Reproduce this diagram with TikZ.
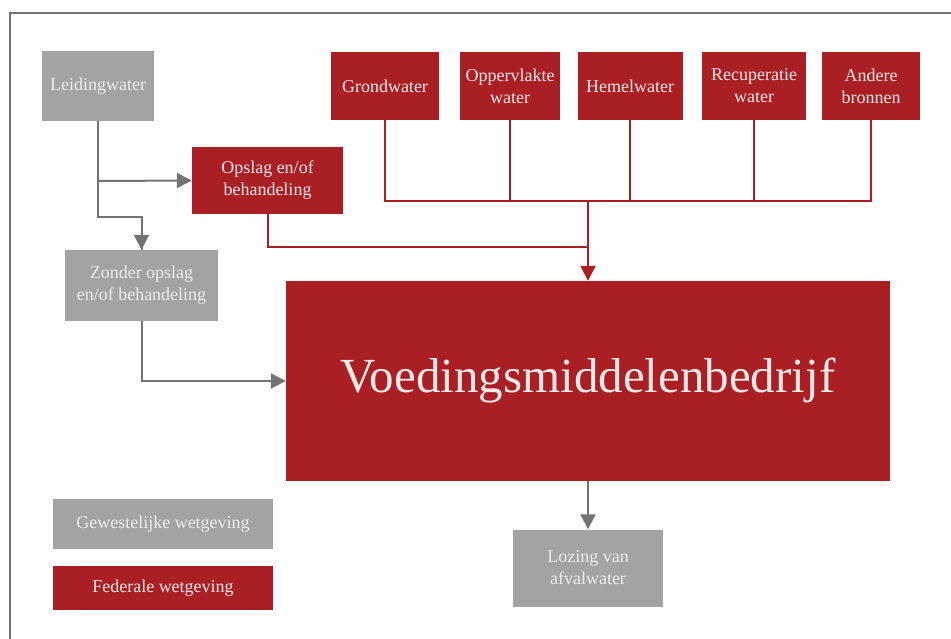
\documentclass[tikz,border=0pt]{standalone}
\usepackage{fontspec}
\setmainfont{Liberation Serif}
\usetikzlibrary{arrows.meta}
\definecolor{fedred}{RGB}{170,31,36}
\definecolor{gewgray}{RGB}{163,163,163}
\definecolor{linegray}{RGB}{115,115,115}
\definecolor{redtext}{RGB}{248,232,232}
\definecolor{graytext}{RGB}{236,236,236}
\begin{document}
\begin{tikzpicture}[x=1pt,y=-1pt,
  basebox/.style={rectangle, inner sep=2pt, align=center, font=\fontsize{18}{22}\selectfont},
  gbox/.style={basebox, fill=gewgray, text=graytext},
  rbox/.style={basebox, fill=fedred, text=redtext},
  rl/.style={draw=fedred, line width=2pt},
  gl/.style={draw=linegray, line width=2pt},
  tip/.style={-{Triangle[length=15pt,width=15pt]}}
]
\useasboundingbox (0,0) rectangle (951,639);
\draw[linegray, line width=1.5pt] (10,639) -- (10,13) -- (951,13);

\node[gbox, minimum width=112, minimum height=70] (lw) at (98,86) {Leidingwater};
\node[rbox, minimum width=108, minimum height=68] (gw) at (385,86) {Grondwater};
\node[rbox, minimum width=100, minimum height=68] (ov) at (510,86) {Oppervlakte\\water};
\node[rbox, minimum width=105, minimum height=68] (hw) at (630,86) {Hemelwater};
\node[rbox, minimum width=104, minimum height=68] (rw) at (754,86) {Recuperatie\\water};
\node[rbox, minimum width=98, minimum height=68] (ab) at (871,86) {Andere\\bronnen};
\node[rbox, minimum width=151, minimum height=67] (op) at (267.5,180.5) {Opslag en/of\\behandeling};
\node[gbox, minimum width=153, minimum height=71] (zo) at (141.5,285.5) {Zonder opslag\\en/of behandeling};
\node[rbox, minimum width=604, minimum height=200, font=\fontsize{49}{56}\selectfont] (main) at (588,381) {Voedingsmiddelenbedrijf};
\node[gbox, minimum width=150, minimum height=77] (lo) at (588,568) {Lozing van\\afvalwater};
\node[gbox, minimum width=220, minimum height=50] (gew) at (163,524) {Gewestelijke wetgeving};
\node[rbox, minimum width=220, minimum height=44] (fed) at (163,588) {Federale wetgeving};

\coordinate (bus) at (588,201);
\coordinate (j1) at (588,247);
\coordinate (b1) at (98,181);
\coordinate (b2) at (98,217);

\draw[rl] (gw.south) |- (bus) -| (ab.south);
\draw[rl] (ov.south) -- (ov.south |- bus);
\draw[rl] (hw.south) -- (hw.south |- bus);
\draw[rl] (rw.south) -- (rw.south |- bus);
\draw[rl] (op.south) |- (j1);
\draw[rl, tip] (bus) -- (main.north -| bus);

\draw[gl] (lw.south) -- (b2) -| (zo.north);
\draw[gl, tip] (zo.north |- 0,231) -- (zo.north);
\draw[gl, tip] (b1) -- (op.west);
\draw[gl, tip] (zo.south) |- (main.west);
\draw[gl, tip] (main.south) -- (lo.north);
\end{tikzpicture}
\end{document}
